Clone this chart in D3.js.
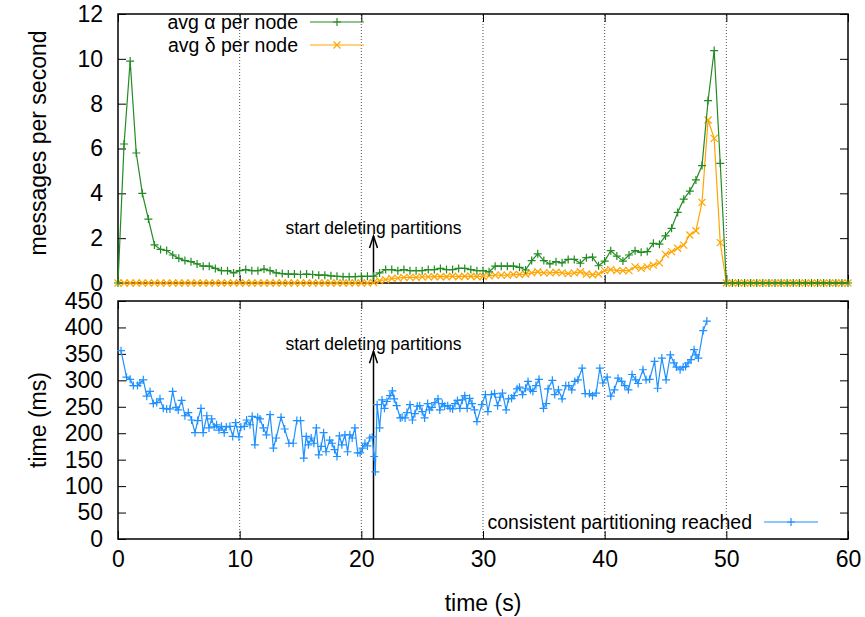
<!DOCTYPE html>
<html>
<head>
<meta charset="utf-8">
<script src="https://cdn.jsdelivr.net/npm/d3@7"></script>
<style>
  body { margin: 0; background: #fff; }
  text { font-family: "Liberation Sans", Arial, sans-serif; fill: #000; }
</style>
</head>
<body>
<div id="chart"></div>
<script>
// top panel: samples every 0.5 s
var alphaTimes = d3.range(0, 60.01, 0.5);
var alphaValues = [0, 6.2, 9.9, 5.8, 4.0, 2.85, 1.7, 1.5, 1.45, 1.25, 1.1, 1.0, 0.95, 0.85, 0.75, 0.75,
  0.65, 0.55, 0.55, 0.45, 0.55, 0.6, 0.55, 0.55, 0.62, 0.55, 0.45, 0.42, 0.4, 0.4, 0.38, 0.4,
  0.38, 0.35, 0.35, 0.32, 0.3, 0.28, 0.28, 0.28, 0.3, 0.3, 0.3, 0.45, 0.6, 0.6, 0.55, 0.6,
  0.55, 0.55, 0.55, 0.6, 0.6, 0.65, 0.6, 0.6, 0.65, 0.65, 0.6, 0.55, 0.55, 0.5, 0.75, 0.75,
  0.75, 0.75, 0.7, 0.58, 1.0, 1.3, 1.0, 0.85, 0.95, 0.9, 1.05, 1.05, 0.88, 1.13, 1.15, 0.77,
  0.98, 1.44, 1.2, 0.98, 1.25, 1.44, 1.37, 1.4, 1.77, 1.73, 2.1, 2.44, 3.15, 3.74, 4.1, 4.6,
  5.24, 8.14, 10.37, 5.34, 0, 0, 0, 0, 0, 0, 0, 0, 0, 0, 0, 0, 0, 0, 0, 0,
  0, 0, 0, 0, 0];
var deltaValues = [0, 0, 0, 0, 0, 0, 0, 0, 0, 0, 0, 0, 0, 0, 0, 0,
  0, 0, 0, 0, 0, 0, 0, 0, 0, 0, 0, 0, 0, 0, 0, 0,
  0, 0, 0, 0, 0, 0, 0, 0, 0, 0, 0.02, 0.1, 0.15, 0.2, 0.22, 0.25,
  0.25, 0.25, 0.27, 0.27, 0.28, 0.28, 0.28, 0.3, 0.28, 0.3, 0.3, 0.28, 0.3, 0.32, 0.35, 0.35,
  0.35, 0.38, 0.38, 0.4, 0.45, 0.5, 0.45, 0.45, 0.48, 0.45, 0.42, 0.45, 0.5, 0.4, 0.37, 0.4,
  0.55, 0.6, 0.55, 0.55, 0.55, 0.72, 0.65, 0.72, 0.8, 0.9, 1.28, 1.4, 1.55, 1.69, 2.14, 2.33,
  3.6, 7.27, 6.45, 1.8, 0, 0, 0, 0, 0, 0, 0, 0, 0, 0, 0, 0, 0, 0, 0, 0,
  0, 0, 0, 0, 0];

// bottom panel: time until consistent partitioning (ms)
var consTimes = [0.25, 0.7, 1.0, 1.26, 1.6, 1.8, 2.08, 2.36, 2.63, 2.9, 3.18, 3.45, 3.72, 4.0, 4.27, 4.49,
  4.77, 4.95, 5.23, 5.5, 5.78, 6.05, 6.33, 6.55, 6.82, 7.0, 7.3, 7.48, 7.7, 7.9, 8.1, 8.3,
  8.5, 8.73, 8.9, 9.2, 9.43, 9.67, 9.94, 10.1, 10.38, 10.57, 10.85, 11.03, 11.25, 11.48, 11.67, 11.95,
  12.2, 12.5, 12.77, 13.0, 13.4, 13.7, 14.05, 14.4, 14.7,
  15.0, 15.27, 15.47, 15.65, 15.88, 16.1, 16.3, 16.5, 16.7, 16.9, 17.1, 17.4, 17.6, 17.8, 18.0, 18.2,
  18.4, 18.65, 18.87, 19.06, 19.25, 19.47, 19.7, 19.9, 20.1, 20.3, 20.5, 20.7, 20.9, 21.05, 21.15, 21.3,
  21.5, 21.7, 21.9, 22.1, 22.35, 22.55, 22.7, 22.9, 23.2, 23.35, 23.6, 23.75, 24.0, 24.2, 24.4, 24.6,
  24.8, 25.0, 25.2, 25.45, 25.6, 25.8, 26.05, 26.3, 26.45, 26.65, 26.85, 27.1, 27.3, 27.5, 27.7, 27.9,
  28.1, 28.3, 28.5, 28.7, 28.9, 29.1, 29.3, 29.5,
  29.9, 30.2, 30.4, 30.7, 30.95, 31.2, 31.4, 31.6, 31.9, 32.1, 32.35, 32.55, 32.8, 33.0, 33.25, 33.5,
  33.7, 33.9, 34.1, 34.35, 34.6,
  34.97, 35.2, 35.35, 35.7, 35.9, 36.2, 36.5, 36.8, 37.05, 37.3, 37.55, 37.8, 38.15, 38.4, 38.75, 39.0,
  39.3, 39.6, 39.85, 40.2, 40.5, 40.8, 41.1, 41.4, 41.65, 41.95, 42.25, 42.55, 42.75, 43.15, 43.4, 43.7,
  44.1, 44.35, 44.7, 45.05, 45.4, 45.7, 45.9, 46.2, 46.45, 46.65, 46.85, 47.1, 47.35, 47.5, 47.7, 48.1,
  48.4];
var consValues = [356, 306, 302, 290, 290, 295, 301, 270, 279, 256, 258, 265, 247, 246, 246, 279,
  249, 244, 262, 233, 239, 225, 201, 224, 247, 201, 233, 210, 227, 212, 216, 206,
  213, 201, 212, 213, 194, 220, 193, 212, 213, 225, 216, 232, 178, 230, 227, 210,
  197, 235, 172, 191, 230, 208, 181, 181, 224,
  224, 153, 194, 178, 191, 181, 210, 159, 175, 201, 165, 187, 181, 169, 156, 195,
  178, 197, 165, 197, 191, 210, 163, 163, 172, 181, 176, 191, 193, 156, 127, 254,
  210, 263, 247, 260, 271, 280, 265, 252, 229, 230, 229, 239, 254, 225, 237, 251,
  252, 241, 229, 256, 244, 249, 258, 265, 244, 256, 251, 252, 247, 246, 256, 262,
  247, 263, 271, 247, 266, 256, 244, 222,
  254, 273, 241, 273, 275, 252, 268, 276, 244, 265, 266, 271, 284, 287, 273, 285,
  298, 282, 279, 290, 302,
  247, 256, 284, 300, 273, 282, 265, 290, 290, 282, 298, 301, 323, 275, 275, 271,
  276, 323, 295, 306, 270, 282, 304, 298, 290, 282, 311, 301, 294, 320, 301, 302,
  336, 285, 342, 301, 348, 333, 325, 320, 325, 326, 333, 339, 358, 348, 342, 394,
  412];

var xTicks = [0, 10, 20, 30, 40, 50, 60];
var gridTicks = [10, 20, 30, 40, 50];
var topTicks = [0, 2, 4, 6, 8, 10, 12];
var bottomTicks = [0, 50, 100, 150, 200, 250, 300, 350, 400, 450];
var deleteTime = 21;

var width = 865, height = 617;
var left = 118, right = 848;

var svg = d3.select('#chart').append('svg')
    .attr('width', width)
    .attr('height', height);

var x = d3.scaleLinear().domain([0, 60]).range([left, right]);
var yTop = d3.scaleLinear().domain([0, 12]).range([283, 14]);
var yBot = d3.scaleLinear().domain([0, 450]).range([539, 301]);

var plus = 'M-4,0H4M0,-4V4';
var cross = 'M-3.5,-3.5L3.5,3.5M-3.5,3.5L3.5,-3.5';

function drawFrame(y, ticks, showXLabels) {
    var g = svg.append('g');
    var y0 = y.range()[0], y1 = y.range()[1];

    // dotted verticals
    g.selectAll('line.grid').data(gridTicks).enter().append('line')
        .attr('x1', function(d){ return x(d); })
        .attr('x2', function(d){ return x(d); })
        .attr('y1', y0).attr('y2', y1)
        .attr('stroke', '#555').attr('stroke-width', 1)
        .attr('stroke-dasharray', '1,2');

    var ax = g.append('g').attr('transform', 'translate(0,' + y0 + ')')
        .call(d3.axisBottom(x).tickValues(xTicks).tickSize(-8).tickPadding(12)
            .tickFormat(showXLabels ? d3.format('d') : ''));
    var axTop = g.append('g').attr('transform', 'translate(0,' + y1 + ')')
        .call(d3.axisTop(x).tickValues(xTicks).tickSize(-8).tickFormat(''));
    var ay = g.append('g').attr('transform', 'translate(' + left + ',0)')
        .call(d3.axisLeft(y).tickValues(ticks).tickSize(-8).tickPadding(15).tickFormat(d3.format('d')));
    var ayR = g.append('g').attr('transform', 'translate(' + right + ',0)')
        .call(d3.axisRight(y).tickValues(ticks).tickSize(-8).tickFormat(''));

    [ax, axTop, ay, ayR].forEach(function(a){
        a.select('.domain').remove();
        a.selectAll('.tick line').attr('stroke', '#000');
        a.selectAll('text').style('font-size', '23px').attr('font-family', '"Liberation Sans", Arial, sans-serif');
    });

    g.append('rect')
        .attr('x', left).attr('y', y1)
        .attr('width', right - left).attr('height', y0 - y1)
        .attr('fill', 'none').attr('stroke', '#000').attr('stroke-width', 1.5);
    return g;
}

function arrow(y, tipValue, textY) {
    var y0 = y.range()[0];
    var xa = x(deleteTime), yt = y(tipValue);
    svg.append('line')
        .attr('x1', xa).attr('x2', xa).attr('y1', y0).attr('y2', yt)
        .attr('stroke', '#000').attr('stroke-width', 1.5);
    svg.append('path')
        .attr('d', 'M' + (xa - 4) + ',' + (yt + 12) + 'L' + xa + ',' + yt + 'L' + (xa + 4) + ',' + (yt + 12))
        .attr('fill', 'none').attr('stroke', '#000').attr('stroke-width', 1.5);
    svg.append('text')
        .attr('x', xa).attr('y', textY)
        .attr('text-anchor', 'middle')
        .style('font-size', '17.5px')
        .text('start deleting partitions');
}

function series(y, xs, ys, color, marker) {
    var pts = xs.map(function(t, i){ return [t, ys[i]]; });
    var line = d3.line().x(function(d){ return x(d[0]); }).y(function(d){ return y(d[1]); });
    svg.append('path').datum(pts)
        .attr('d', line).attr('fill', 'none')
        .attr('stroke', color).attr('stroke-width', 1.2);
    svg.append('g').selectAll('path').data(pts).enter().append('path')
        .attr('d', marker)
        .attr('transform', function(d){ return 'translate(' + x(d[0]) + ',' + y(d[1]) + ')'; })
        .attr('fill', 'none').attr('stroke', color).attr('stroke-width', 1.2);
}

function legendRow(textRight, ly, label, color, marker) {
    svg.append('text')
        .attr('x', textRight).attr('y', ly + 7)
        .attr('text-anchor', 'end')
        .style('font-size', '19.5px')
        .text(label);
    svg.append('line')
        .attr('x1', textRight + 12).attr('x2', textRight + 66)
        .attr('y1', ly).attr('y2', ly)
        .attr('stroke', color).attr('stroke-width', 1.2);
    svg.append('path')
        .attr('d', marker)
        .attr('transform', 'translate(' + (textRight + 39) + ',' + ly + ')')
        .attr('fill', 'none').attr('stroke', color).attr('stroke-width', 1.2);
}

// top panel
drawFrame(yTop, topTicks, false);
arrow(yTop, 2.1, 234);
series(yTop, alphaTimes, deltaValues, '#ffa500', cross);
series(yTop, alphaTimes, alphaValues, '#228b22', plus);
legendRow(298, 22, 'avg \u03b1 per node', '#228b22', plus);
legendRow(298, 45, 'avg \u03b4 per node', '#ffa500', cross);

// bottom panel
drawFrame(yBot, bottomTicks, true);
arrow(yBot, 355, 350);
series(yBot, consTimes, consValues, '#1e90ff', plus);
legendRow(752, 522, 'consistent partitioning reached', '#1e90ff', plus);

// axis titles
svg.append('text')
    .attr('transform', 'translate(46,143) rotate(-90)')
    .attr('text-anchor', 'middle')
    .style('font-size', '23px')
    .text('messages per second');
svg.append('text')
    .attr('transform', 'translate(46,420) rotate(-90)')
    .attr('text-anchor', 'middle')
    .style('font-size', '23px')
    .text('time (ms)');
svg.append('text')
    .attr('x', 483).attr('y', 611)
    .attr('text-anchor', 'middle')
    .style('font-size', '23px')
    .text('time (s)');
</script>
</body>
</html>
